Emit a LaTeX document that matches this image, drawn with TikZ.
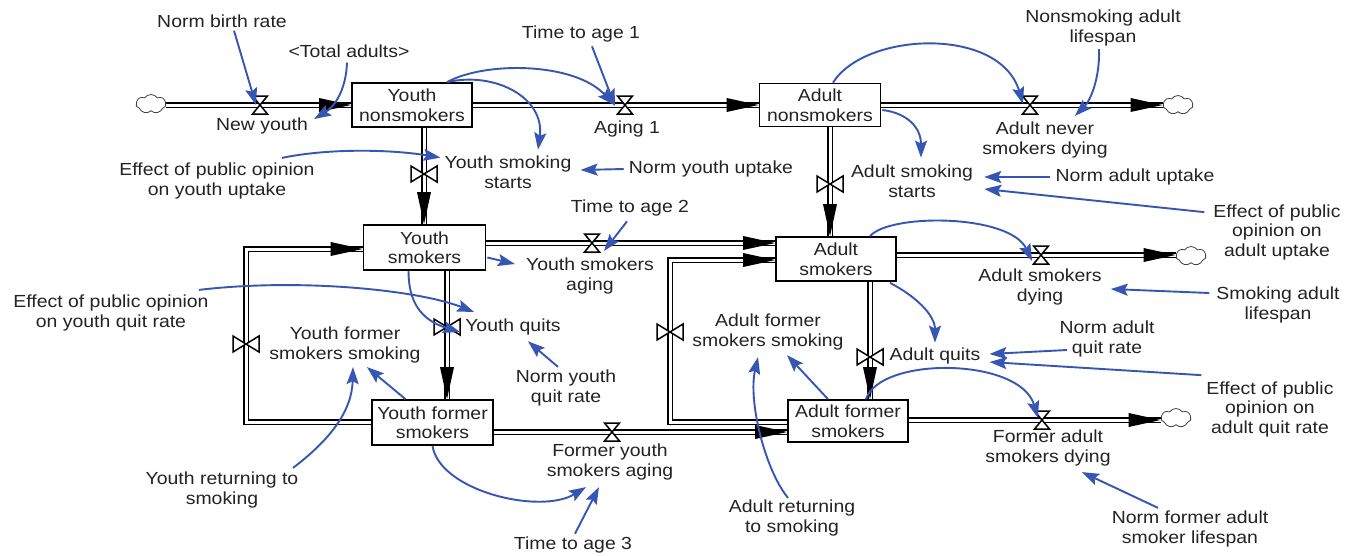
\documentclass[tikz,border=0pt]{standalone}
\usepackage{fontspec}
\setmainfont{Liberation Sans}[FakeStretch=1.11]
\usetikzlibrary{arrows.meta,calc,shapes.symbols}
\definecolor{infoc}{RGB}{55,86,180}
\definecolor{txtc}{RGB}{35,35,35}
\newcommand\valveH[1]{\filldraw[valve, shift={(#1)}] (-7.5,-9) -- (7.5,-9) -- (-7.5,9) -- (7.5,9) -- cycle;}
\newcommand\valveV[1]{\filldraw[valve, shift={(#1)}] (-13,-8) -- (-13,8) -- (13,-8) -- (13,8) -- cycle;}
\newcommand\fltipR[1]{\fill[black] (#1) -- ++(-32,-7) -- ++(0,14) -- cycle;}
\newcommand\fltipD[1]{\fill[black] (#1) -- ++(-7,-32) -- ++(14,0) -- cycle;}
\begin{document}
\begin{tikzpicture}[x=1pt,y=-1pt,
  lbl/.style={align=center, inner sep=1pt, text=txtc, font=\fontsize{17.5}{19.5}\selectfont},
  stock/.style={draw=black, line width=1.7pt, fill=white, align=center, inner sep=0pt, text=txtc, font=\fontsize{17.5}{19.5}\selectfont},
  pipe/.style={draw=black, line width=1.7pt, double=white, double distance=3pt, line join=miter},
  valve/.style={draw=black, fill=white, line width=1.5pt, line join=miter},
  cloudsh/.style={cloud, cloud puffs=7, cloud puff arc=110, cloud ignores aspect, draw=black!75, line width=0.8pt, minimum width=30pt, minimum height=19pt, inner sep=0pt},
  info/.style={draw=infoc, line width=1.9pt, -{Stealth[length=17pt,width=12pt,inset=3pt]}}]
\fill[white] (0,0) rectangle (1355,555);
\useasboundingbox (0,0) rectangle (1355,555);

% stocks
\node[stock, minimum width=120pt, minimum height=44pt] (YN) at (412,105) {Youth\\nonsmokers};
\node[stock, minimum width=121pt, minimum height=43pt] (AN) at (820,105) {Adult\\nonsmokers};
\node[stock, minimum width=122pt, minimum height=45pt] (YS) at (424.5,247.5) {Youth\\smokers};
\node[stock, minimum width=120pt, minimum height=44pt] (AS) at (836,259) {Adult\\smokers};
\node[stock, minimum width=121pt, minimum height=45pt] (YF) at (432.5,422.5) {Youth former\\smokers};
\node[stock, minimum width=120pt, minimum height=42pt] (AF) at (848,421) {Adult former\\smokers};

% clouds
\node[cloudsh] (c1) at (151,104) {};
\node[cloudsh] (c2) at (1178,105) {};
\node[cloudsh] (c3) at (1191,256) {};
\node[cloudsh] (c4) at (1176,418) {};

% valve positions and corners
\coordinate (vNY) at (260,105);
\coordinate (vA1) at (625,105);
\coordinate (vANSD) at (1030,105);
\coordinate (vYSS) at (424,174);
\coordinate (vASS) at (830,184);
\coordinate (vYSA) at (592,243);
\coordinate (vASD) at (1041,255);
\coordinate (vYQ) at (447,327);
\coordinate (vAQ) at (870,357);
\coordinate (vFYSA) at (612,432);
\coordinate (vFASD) at (1042,420);
\coordinate (vYFSS) at (246,344);
\coordinate (vAFSS) at (670,332);
\coordinate (yl1) at (246,422);
\coordinate (yl2) at (246,249);
\coordinate (al1) at (670,422);
\coordinate (al2) at (670,260);

% pipes
\draw[pipe] (c1.east |- YN.west) -- (YN.west);
\draw[pipe] (YN.east) -- (AN.west);
\draw[pipe] (AN.east) -- (c2.west |- AN.east);
\draw[pipe] (YN.south -| vYSS) -- (YS.north -| vYSS);
\draw[pipe] (AN.south -| vASS) -- (AS.north -| vASS);
\draw[pipe] (YS.east |- vYSA) -- (AS.west |- vYSA);
\draw[pipe] (AS.east |- vASD) -- (c3.west |- vASD);
\draw[pipe] (YS.south -| vYQ) -- (YF.north -| vYQ);
\draw[pipe] (AS.south -| vAQ) -- (AF.north -| vAQ);
\draw[pipe] (YF.east |- vFYSA) -- (AF.west |- vFYSA);
\draw[pipe] (AF.east |- vFASD) -- (c4.west |- vFASD);
\draw[pipe] (YF.west |- yl1) -- (yl1) -- (yl2) -- (YS.west |- yl2);
\draw[pipe] (AF.west |- al1) -- (al1) -- (al2) -- (AS.west |- al2);

% flow arrow tips
\fltipR{YN.west}
\fltipR{AN.west}
\fltipR{c2.west |- AN.east}
\fltipD{YS.north -| vYSS}
\fltipD{AS.north -| vASS}
\fltipR{AS.west |- vYSA}
\fltipR{c3.west |- vASD}
\fltipD{YF.north -| vYQ}
\fltipD{AF.north -| vAQ}
\fltipR{AF.west |- vFYSA}
\fltipR{c4.west |- vFASD}
\fltipR{YS.west |- yl2}
\fltipR{AS.west |- al2}

% valves
\valveH{vNY}
\valveH{vA1}
\valveH{vANSD}
\valveV{vYSS}
\valveV{vASS}
\valveH{vYSA}
\valveH{vASD}
\valveV{vYQ}
\valveV{vAQ}
\valveH{vFYSA}
\valveH{vFASD}
\valveV{vYFSS}
\valveV{vAFSS}

% labels
\node[lbl] (nbr) at (222,21) {Norm birth rate};
\node[lbl] (ta) at (349,51) {<Total adults>};
\node[lbl] (ny) at (262,126) {New youth};
\node[lbl] (tta1) at (581,34) {Time to age 1};
\node[lbl] (ag1) at (627,129) {Aging 1};
\node[lbl] (nsal) at (1103,28) {Nonsmoking adult\\lifespan};
\node[lbl] (ansd) at (1045,140) {Adult never\\smokers dying};
\node[lbl] (yss) at (508,172) {Youth smoking\\starts};
\node[lbl] (nyu) at (711,169) {Norm youth uptake};
\node[lbl] (eyu) at (217,181) {Effect of public opinion\\on youth uptake};
\node[lbl] (ass) at (912,181) {Adult smoking\\starts};
\node[lbl] (nau) at (1135,177) {Norm adult uptake};
\node[lbl] (eau) at (1277,232) {Effect of public\\opinion on\\adult uptake};
\node[lbl] (tta2) at (630,208) {Time to age 2};
\node[lbl] (ysa) at (590,276) {Youth smokers\\aging};
\node[lbl] (asd) at (1040,287) {Adult smokers\\dying};
\node[lbl] (sal) at (1278,305) {Smoking adult\\lifespan};
\node[lbl] (eyq) at (111,313) {Effect of public opinion\\on youth quit rate};
\node[lbl] (yfss) at (345,345) {Youth former\\smokers smoking};
\node[lbl] (yq) at (513,327) {Youth quits};
\node[lbl] (nyq) at (566,388) {Norm youth\\quit rate};
\node[lbl] (afss) at (768,332) {Adult former\\smokers smoking};
\node[lbl] (aq) at (935,356) {Adult quits};
\node[lbl] (naq) at (1107,339) {Norm adult\\quit rate};
\node[lbl] (eaq) at (1270,409) {Effect of public\\opinion on\\adult quit rate};
\node[lbl] (fysa) at (610,462) {Former youth\\smokers aging};
\node[lbl] (fasd) at (1048,448) {Former adult\\smokers dying};
\node[lbl] (yrs) at (222,490) {Youth returning to\\smoking};
\node[lbl] (ars) at (792,518) {Adult returning\\to smoking};
\node[lbl] (tta3) at (573,545) {Time to age 3};
\node[lbl] (nfal) at (1190,529) {Norm former adult\\smoker lifespan};

% information links
\draw[info] ($(nbr.south)+(12,2)$) -- ($(vNY)+(-4,0)$);
\draw[info] ($(ta.south)+(-2,4)$) .. controls +(-1,28) and +(20,-12) .. ($(ny.east)+(5,-7)$);
\draw[info] ($(tta1.south)+(11,3)$) -- ($(vA1)+(-10,1)$);
\draw[info] ($(YN.north)+(35,0)$) .. controls +(38,-21) and +(-39,-43) .. ($(vA1)+(-11,0)$);
\draw[info] ($(YN.north)+(35,0)$) .. controls +(48,-11) and +(7,-52) .. ($(yss.north)+(30,-5)$);
\draw[info] ($(eyu.north)+(65,-4)$) .. controls +(48,-10) and +(-48,-8) .. ($(yss.north west)+(-3,3)$);
\draw[info] ($(nyu.west)+(-4,0)$) -- ($(yss.east)+(8,-2)$);
\draw[info] ($(AN.north)+(13,0)$) .. controls +(32,-51) and +(-23,-78) .. ($(vANSD)+(-7,-1)$);
\draw[info] ($(nsal.south)+(-4,2)$) .. controls +(1,30) and +(15,-15) .. ($(ansd.north)+(30,-5)$);
\draw[info] ($(AN.east)+(1,5)$) .. controls +(25,3) and +(0,-30) .. ($(ass.north)+(9,-6)$);
\draw[info] ($(nau.west)+(-4,0)$) -- ($(ass.east)+(10,-4)$);
\draw[info] ($(eau.north west)+(-8,9)$) -- ($(ass.east)+(10,8)$);
\draw[info] ($(tta2.south)+(-3,4)$) -- ($(vYSA)+(12,8)$);
\draw[info] ($(YS.east)+(1,10)$) -- ($(ysa.west)+(-10,-12)$);
\draw[info] ($(AS.north)+(34,0)$) .. controls +(20,-23) and +(-22,-47) .. ($(vASD)+(-9,6)$);
\draw[info] ($(sal.west)+(-6,-12)$) -- ($(asd.east)+(8,2)$);
\draw[info] ($(eyq.north)+(88,-4)$) .. controls +(101,-12) and +(-56,-22) .. ($(yq.west)+(10,-15)$);
\draw[info] ($(YS.south)+(-16,0)$) .. controls +(0,30) and +(-40,-12) .. ($(vYQ)+(13,5)$);
\draw[info] ($(nyq.north)+(-8,-2)$) -- ($(yq.south)+(15,5)$);
\draw[info] ($(YF.north)+(-27,0)$) -- ($(yfss.south)+(22,3)$);
\draw[info] ($(yrs.north)+(71,-3)$) .. controls +(37,-28) and +(-1,44) .. ($(yfss.south)+(8,3)$);
\draw[info] (YF.south) .. controls +(7,45) and +(-46,28) .. ($(fysa.south)+(-24,6)$);
\draw[info] ($(tta3.north)+(2,-2)$) -- ($(fysa.south)+(-11,6)$);
\draw[info] ($(AS.south)+(54,1)$) .. controls +(25,13) and +(0,-28) .. ($(aq.north)+(0,-4)$);
\draw[info] ($(naq.center)+(-40,11)$) -- ($(aq.east)+(8,-2)$);
\draw[info] ($(eaq.north west)+(-4,-5)$) -- ($(aq.east)+(8,6)$);
\draw[info] ($(AF.north)+(18,0)$) .. controls +(14,-43) and +(-18,-61) .. ($(vFASD)+(-4,-2)$);
\draw[info] ($(nfal.north)+(-32,-2)$) -- ($(fasd.south)+(34,5)$);
\draw[info] ($(AF.north)+(-20,0)$) -- ($(afss.south)+(19,4)$);
\draw[info] ($(ars.north)+(-4,-1)$) .. controls +(-23,-28) and +(-10,44) .. ($(afss.south)+(-10,6)$);
\end{tikzpicture}
\end{document}
